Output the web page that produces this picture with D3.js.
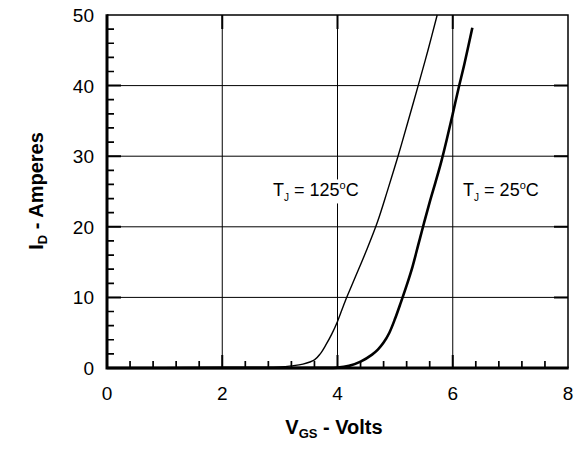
<!DOCTYPE html>
<html><head><meta charset="utf-8">
<script src="https://cdn.jsdelivr.net/npm/d3@7"></script>
<style>body{margin:0;background:#fff}svg{display:block}text{font-family:"Liberation Sans",Arial,sans-serif}</style>
</head><body><div id="c"></div>
<script>
const xTicks = [0, 2, 4, 6, 8];
const yTicks = [0, 10, 20, 30, 40, 50];
const vgs25 = [0, 1, 2, 3, 3.6, 4.0, 4.2, 4.4, 4.6, 4.7, 4.8, 4.9, 5.0, 5.1, 5.2, 5.3, 5.4, 5.5, 5.6, 5.7, 5.8, 5.9, 6.0, 6.1, 6.2, 6.34];
const id25  = [0, 0, 0, 0, 0.02, 0.05, 0.3, 0.9, 1.9, 2.6, 3.6, 5.0, 7.0, 9.3, 11.7, 14.3, 17.4, 20.5, 23.5, 26.3, 29.2, 32.5, 36.0, 39.6, 43.0, 48.2];
const vgs125 = [0, 1, 2, 2.6, 3.0, 3.2, 3.4, 3.6, 3.7, 3.8, 3.9, 4.0, 4.13, 4.3, 4.5, 4.69, 4.87, 5.05, 5.22, 5.4, 5.57, 5.73];
const id125  = [0.05, 0.05, 0.1, 0.1, 0.15, 0.3, 0.55, 1.15, 2.0, 3.3, 4.8, 6.6, 9.4, 12.7, 16.6, 20.6, 25.2, 30.0, 34.8, 40.0, 45.0, 50.0];
const xMinor = [0.4, 0.8, 1.2, 1.6, 2.4, 2.8, 3.2, 3.6, 4.4, 4.8, 5.2, 5.6, 6.4, 6.8, 7.2, 7.6];
const yMinor = [2, 4, 6, 8, 12, 14, 16, 18, 22, 24, 26, 28, 32, 34, 36, 38, 42, 44, 46, 48];

const W = 585, H = 456;
const m = {l: 107, r: 17, t: 15, b: 88};
const svg = d3.select("#c").append("svg").attr("width", W).attr("height", H);
const x = d3.scaleLinear().domain([0, 8]).range([m.l, W - m.r]);
const y = d3.scaleLinear().domain([0, 50]).range([H - m.b, m.t]);

const inner = xTicks.slice(1, -1), innerY = yTicks.slice(1, -1);
// grid
svg.append("g").selectAll("line").data(inner).enter().append("line")
  .attr("x1", d => x(d)).attr("x2", d => x(d)).attr("y1", y(0)).attr("y2", y(50))
  .attr("stroke", "#000").attr("stroke-width", 1);
svg.append("g").selectAll("line").data(innerY).enter().append("line")
  .attr("x1", x(0)).attr("x2", x(8)).attr("y1", d => y(d)).attr("y2", d => y(d))
  .attr("stroke", "#000").attr("stroke-width", 1);

// minor ticks
let tp = "";
xMinor.forEach(v => { tp += `M${x(v)},${y(0)}V${y(0) - 7}`; });
yMinor.forEach(v => { tp += `M${x(0)},${y(v)}H${x(0) + 7}`; });
svg.append("path").attr("d", tp).attr("stroke", "#000").attr("stroke-width", 1.7).attr("fill", "none");
// major ticks
let mp = "";
inner.forEach(v => { mp += `M${x(v)},${y(0)}V${y(0) - 13}M${x(v)},${y(50)}V${y(50) + 14}`; });
innerY.forEach(v => { mp += `M${x(0)},${y(v)}H${x(0) + 14}M${x(8)},${y(v)}H${x(8) - 14}`; });
svg.append("path").attr("d", mp).attr("stroke", "#000").attr("stroke-width", 2).attr("fill", "none");

function label(xv, yv, rest) {
  const t = svg.append("text").attr("x", x(xv)).attr("y", y(yv)).attr("font-size", 18).attr("fill", "#000");
  t.append("tspan").text("T");
  t.append("tspan").attr("font-size", 10).attr("dy", 5).text("J");
  t.append("tspan").attr("dy", -5).text(rest);
  t.append("tspan").attr("font-size", 11).attr("dy", -7).text("o");
  t.append("tspan").attr("dy", 7).text("C");
  const bb = t.node().getBBox();
  svg.insert("rect", "text").attr("x", bb.x - 2).attr("y", bb.y).attr("width", bb.width + 4).attr("height", bb.height).attr("fill", "#fff");
}
label(2.88, 24.3, " = 125");
label(6.18, 24.3, " = 25");

const line = d3.line().x(d => x(d[0])).y(d => y(d[1])).curve(d3.curveCatmullRom.alpha(0.5));
const d125 = vgs125.map((v, i) => [v, id125[i]]);
const d25 = vgs25.map((v, i) => [v, id25[i]]);
svg.append("path").datum(d125).attr("d", line).attr("fill", "none").attr("stroke", "#000").attr("stroke-width", 1.4);
svg.append("path").datum(d25).attr("d", line).attr("fill", "none").attr("stroke", "#000").attr("stroke-width", 2.6);

// frame
svg.append("path").attr("d", `M${x(0)},${y(50)}H${x(8)}V${y(0)}`).attr("stroke", "#000").attr("stroke-width", 1.5).attr("fill", "none");
svg.append("path").attr("d", `M${x(0)},${y(50) - 0.7}V${y(0)}H${x(8) + 0.7}`).attr("stroke", "#000").attr("stroke-width", 3).attr("fill", "none");

// tick labels
svg.append("g").selectAll("text").data(xTicks).enter().append("text")
  .attr("x", d => x(d)).attr("y", 400).attr("text-anchor", "middle").attr("font-size", 19).text(d => d);
svg.append("g").selectAll("text").data(yTicks).enter().append("text")
  .attr("x", 94).attr("y", d => y(d) + 7).attr("text-anchor", "end").attr("font-size", 19).text(d => d);

// axis titles
const xt = svg.append("text").attr("x", 334).attr("y", 434).attr("text-anchor", "middle").attr("font-size", 20).attr("font-weight", "bold");
xt.append("tspan").text("V");
xt.append("tspan").attr("font-size", 13).attr("dy", 4).text("GS");
xt.append("tspan").attr("dy", -4).text(" - Volts");
const yt = svg.append("text").attr("transform", "translate(43,191) rotate(-90)").attr("text-anchor", "middle").attr("font-size", 20).attr("font-weight", "bold");
yt.append("tspan").text("I");
yt.append("tspan").attr("font-size", 13).attr("dy", 4).text("D");
yt.append("tspan").attr("dy", -4).text(" - Amperes");
</script></body></html>
